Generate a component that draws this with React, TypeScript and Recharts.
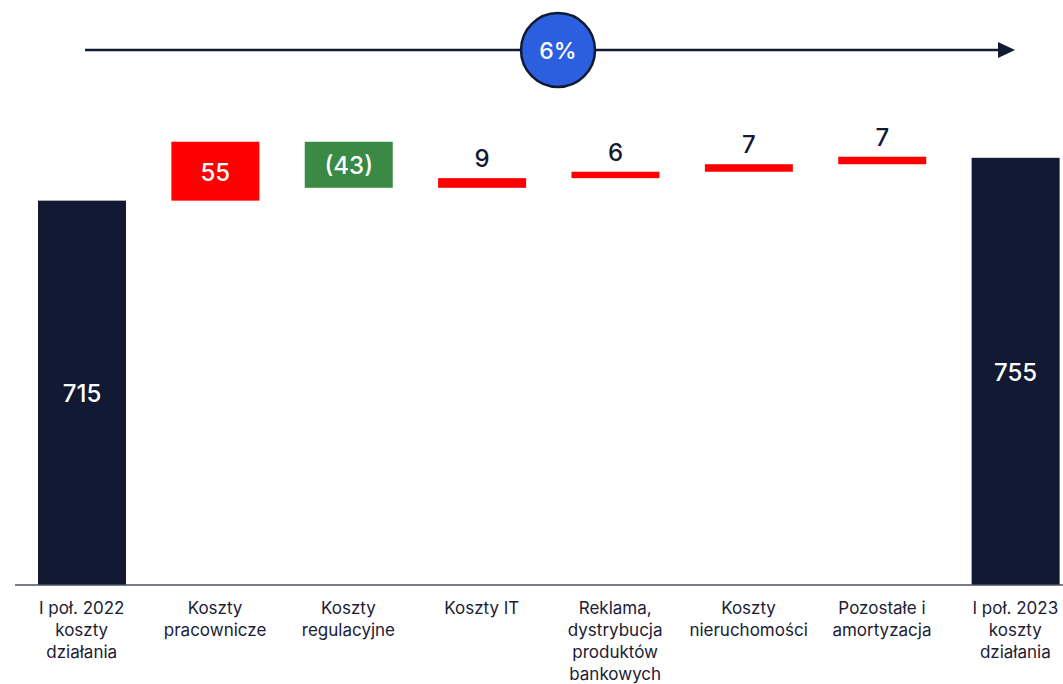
import * as React from 'react';
import { Bar, BarChart, Cell, XAxis, YAxis } from 'recharts';

// kategorie (łamanie linii ręcznie, jak na slajdzie)
const categories = [
    'I poł. 2022\nkoszty\ndziałania',
    'Koszty\npracownicze',
    'Koszty\nregulacyjne',
    'Koszty IT',
    'Reklama,\ndystrybucja\nproduktów\nbankowych',
    'Koszty\nnieruchomości',
    'Pozostałe i\namortyzacja',
    'I poł. 2023\nkoszty\ndziałania',
];
const values = [715, 55, -43, 9, 6, 7, 7, 755];
const isTotal = [true, false, false, false, false, false, false, true];
const growthLabel = '6%';

const NAVY = '#121933';
const RED = '#ff0000';
const GREEN = '#3a8a45';
const BLUE = '#2b5fe0';
const FONT = 'Inter, "Noto Sans", sans-serif';

function buildData() {
    let running = 0;
    return categories.map((name, i) => {
        const v = values[i];
        let range: [number, number];
        if (isTotal[i]) {
            range = [0, v];
            running = v;
        } else {
            const next = running + v;
            range = [Math.min(running, next), Math.max(running, next)];
            running = next;
        }
        const label = v < 0 ? `(${Math.abs(v)})` : String(v);
        const color = isTotal[i] ? NAVY : v < 0 ? GREEN : RED;
        return { name, range, label, color, total: isTotal[i] };
    });
}

const data = buildData();

function BarShape(props: any) {
    const { x, y, width, height, background, payload } = props;
    const bottomLimit = background ? background.y + background.height : y + height;
    const bottom = Math.min(y + height, bottomLimit);
    const h = Math.max(bottom - y, 0);
    const inside = payload.total || h > 30;
    const cx = x + width / 2;
    return (
        <g>
            <rect x={x} y={y} width={width} height={h} fill={payload.color} />
            <text
                x={cx}
                y={inside ? y + h / 2 + 1 : y - 11}
                textAnchor="middle"
                dominantBaseline={inside ? 'central' : 'auto'}
                fill={inside ? '#ffffff' : NAVY}
                fontSize={24}
                fontWeight={500}
                fontFamily={FONT}
            >
                {payload.label}
            </text>
        </g>
    );
}

function CategoryTick(props: any) {
    const { x, y, payload } = props;
    const lines = String(payload.value).split('\n');
    return (
        <text x={x} y={y + 21} textAnchor="middle" fill="#1b2035" fontSize={17} fontFamily={FONT}>
            {lines.map((l, i) => (
                <tspan key={i} x={x} dy={i === 0 ? 0 : 22}>
                    {l}
                </tspan>
            ))}
        </text>
    );
}

export default function App() {
    return (
        <div
            style={{
                position: 'absolute',
                left: 0,
                top: 0,
                width: 1063,
                height: 684,
                overflow: 'hidden',
                background: '#fff',
                fontFamily: FONT,
            }}
        >
            <BarChart
                width={1082}
                height={684}
                data={data}
                margin={{ top: 100, right: 0, left: 15, bottom: 0 }}
                barSize={88}
            >
                <XAxis
                    dataKey="name"
                    interval={0}
                    tickLine={false}
                    axisLine={{ stroke: '#4d5162', strokeWidth: 1.5 }}
                    tick={<CategoryTick />}
                    height={99}
                />
                <YAxis hide domain={[356, 809]} allowDataOverflow />
                <Bar dataKey="range" isAnimationActive={false} shape={<BarShape />}>
                    {data.map((d, i) => (
                        <Cell key={i} fill={d.color} />
                    ))}
                </Bar>
            </BarChart>
            <svg
                width={1063}
                height={110}
                style={{ position: 'absolute', left: 0, top: 0 }}
            >
                <line x1={85} y1={50} x2={1000} y2={50} stroke={NAVY} strokeWidth={2.5} />
                <polygon points="998,42 1015,50 998,58" fill={NAVY} />
                <circle cx={558} cy={50} r={37} fill={BLUE} stroke={NAVY} strokeWidth={2.5} />
                <text
                    x={558}
                    y={51}
                    textAnchor="middle"
                    dominantBaseline="central"
                    fill="#ffffff"
                    fontSize={23}
                    fontWeight={500}
                    fontFamily={FONT}
                >
                    {growthLabel}
                </text>
            </svg>
        </div>
    );
}
